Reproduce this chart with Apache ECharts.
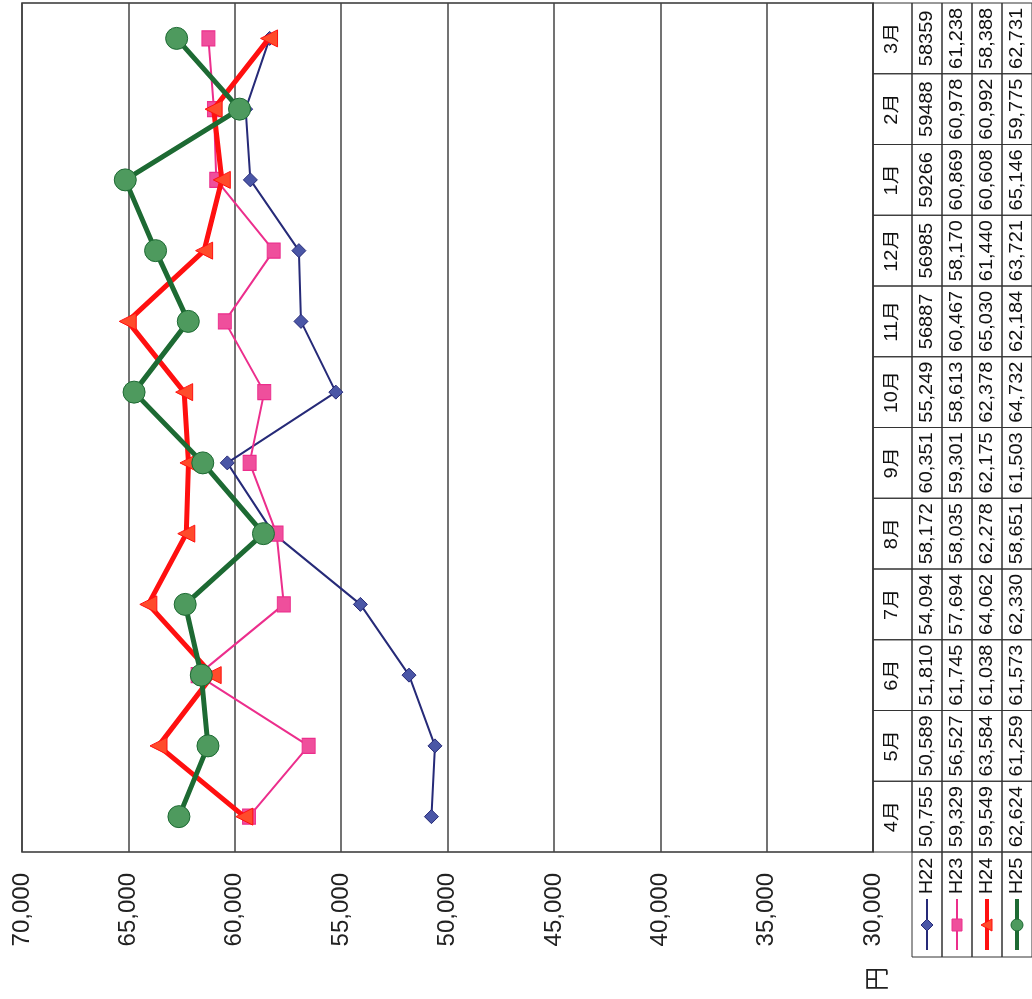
<!DOCTYPE html>
<html><head><meta charset="utf-8">
<script src="https://cdn.jsdelivr.net/npm/echarts@6/dist/echarts.min.js"></script>
<style>html,body{margin:0;padding:0;background:#fff}#c{width:1032px;height:999px}</style>
</head><body><div id="c"></div>
<script>
// ---- data ----
const months = ['4月','5月','6月','7月','8月','9月','10月','11月','12月','1月','2月','3月'];
const seriesNames = ['H22','H23','H24','H25'];
const h22 = [50755,50589,51810,54094,58172,60351,55249,56887,56985,59266,59488,58359];
const h23 = [59329,56527,61745,57694,58035,59301,58613,60467,58170,60869,60978,61238];
const h24 = [59549,63584,61038,64062,62278,62175,62378,65030,61440,60608,60992,58388];
const h25 = [62624,61259,61573,62330,58651,61503,64732,62184,63721,65146,59775,62731];
const h22PlainMonths = ['11月','12月','1月','2月','3月']; // printed without thousands separator in the table
const valueMin = 30000, valueMax = 70000, valueStep = 5000;
const unitLabel = '円';

// ---- style / layout ----
const allSeries = [h22, h23, h24, h25];
const lineColors = ['#262a78', '#ec2e8c', '#ff1010', '#1d6a33'];
const markColors = ['#4a56a6', '#ef4f9c', '#ff4b2b', '#4e9a5e'];
const lineWidths = [2, 2, 5, 5];
const symbols = ['diamond', 'rect', 'triangle', 'circle'];
const symbolSizes = [14, [13, 15], 17, 22];
const symbolRotates = [0, 0, 90, 0];
const colEdges = [0, 39, 69, 99, 129, 159];
const tableFont = '20px "Liberation Sans", Arial, "Noto Sans CJK JP"';
const tableTextSquash = 0.88;

function cellText(s, i) {
  const v = allSeries[s][i];
  if (s === 0 && h22PlainMonths.indexOf(months[i]) >= 0) return String(v);
  return v.toLocaleString('en-US');
}

const chart = echarts.init(document.getElementById('c'), null, {renderer: 'canvas'});

const tableData = [];
months.forEach((m, i) => { for (let j = 0; j < 5; j++) tableData.push([j, i]); });

const lineSeries = seriesNames.map((name, k) => ({
  name, type: 'line', xAxisIndex: 0, yAxisIndex: 0,
  data: allSeries[k].map((v, i) => [v, i]),
  symbol: symbols[k], symbolSize: symbolSizes[k], symbolRotate: symbolRotates[k],
  lineStyle: {color: lineColors[k], width: lineWidths[k]},
  itemStyle: {color: markColors[k], borderColor: lineColors[k], borderWidth: 1},
  z: 3 + k
}));

const tableSeries = {
  type: 'custom', xAxisIndex: 1, yAxisIndex: 1, data: tableData, clip: false,
  renderItem(params, api) {
    const j = api.value(0), i = api.value(1);
    const c = api.coord([0, i]);
    const bandH = api.size([0, 1])[1];
    const x0 = params.coordSys.x + colEdges[j], x1 = params.coordSys.x + colEdges[j + 1];
    const text = j === 0 ? months[i] : cellText(j - 1, i);
    return {type: 'group', children: [
      {type: 'rect', shape: {x: x0, y: c[1] - bandH / 2, width: x1 - x0, height: bandH},
       style: {fill: 'none', stroke: '#333', lineWidth: 1}},
      {type: 'text', x: (x0 + x1) / 2, y: c[1], rotation: Math.PI / 2, scaleY: tableTextSquash,
       style: {text, font: tableFont, fill: '#111', align: 'center', verticalAlign: 'middle'}}
    ]};
  }
};

// legend keys (data-table row headers)
const legendGraphics = [];
const lx0 = 873, ly0 = 852, ly1 = 957;
seriesNames.forEach((name, k) => {
  const xa = lx0 + colEdges[k + 1], xb = lx0 + colEdges[k + 2];
  const xc = (xa + xb) / 2;
  legendGraphics.push({type: 'rect', shape: {x: xa, y: ly0, width: xb - xa, height: ly1 - ly0},
    style: {fill: 'none', stroke: '#333', lineWidth: 1}});
  legendGraphics.push({type: 'text', x: xc, y: 876, rotation: Math.PI / 2, scaleY: tableTextSquash,
    style: {text: name, font: tableFont, fill: '#111', align: 'center', verticalAlign: 'middle'}});
  legendGraphics.push({type: 'line', shape: {x1: xc, y1: 899, x2: xc, y2: 950},
    style: {stroke: lineColors[k], lineWidth: lineWidths[k] === 5 ? 4 : 2}});
  const cy = 925;
  let sym;
  if (k === 0) sym = {type: 'polygon', shape: {points: [[xc, cy - 6], [xc + 6, cy], [xc, cy + 6], [xc - 6, cy]]}};
  else if (k === 1) sym = {type: 'rect', shape: {x: xc - 5, y: cy - 6, width: 10, height: 12}};
  else if (k === 2) sym = {type: 'polygon', shape: {points: [[xc - 6, cy], [xc + 5, cy - 6], [xc + 5, cy + 6]]}};
  else sym = {type: 'circle', shape: {cx: xc, cy, r: 6}};
  sym.style = {fill: markColors[k], stroke: lineColors[k], lineWidth: 1};
  legendGraphics.push(sym);
});
legendGraphics.push({type: 'text', x: 876, y: 979, rotation: Math.PI / 2,
  style: {text: unitLabel, font: '24px "Noto Sans CJK JP"', fill: '#222', align: 'center', verticalAlign: 'middle'}});

chart.setOption({
  animation: false,
  backgroundColor: '#fff',
  grid: [
    {left: 22, right: 159, top: 3, bottom: 147, show: true, borderColor: '#333', borderWidth: 1.5, backgroundColor: 'transparent'},
    {left: 873, right: 0, top: 3, bottom: 147}
  ],
  xAxis: [
    {type: 'value', gridIndex: 0, min: valueMin, max: valueMax, interval: valueStep, inverse: true,
     axisLine: {show: false}, axisTick: {show: false},
     splitLine: {show: true, lineStyle: {color: '#444', width: 1.5}},
     axisLabel: {rotate: 90, margin: 21, color: '#222', fontSize: 24, fontFamily: '"Liberation Sans", Arial',
       formatter: v => v.toLocaleString('en-US')}},
    {type: 'value', gridIndex: 1, min: 0, max: colEdges[colEdges.length - 1], show: false}
  ],
  yAxis: [
    {type: 'category', gridIndex: 0, data: months, boundaryGap: true,
     axisLine: {show: false}, axisTick: {show: false}, axisLabel: {show: false}, splitLine: {show: false}},
    {type: 'category', gridIndex: 1, data: months, show: false}
  ],
  graphic: legendGraphics,
  series: [...lineSeries, tableSeries]
});
</script>
</body></html>
